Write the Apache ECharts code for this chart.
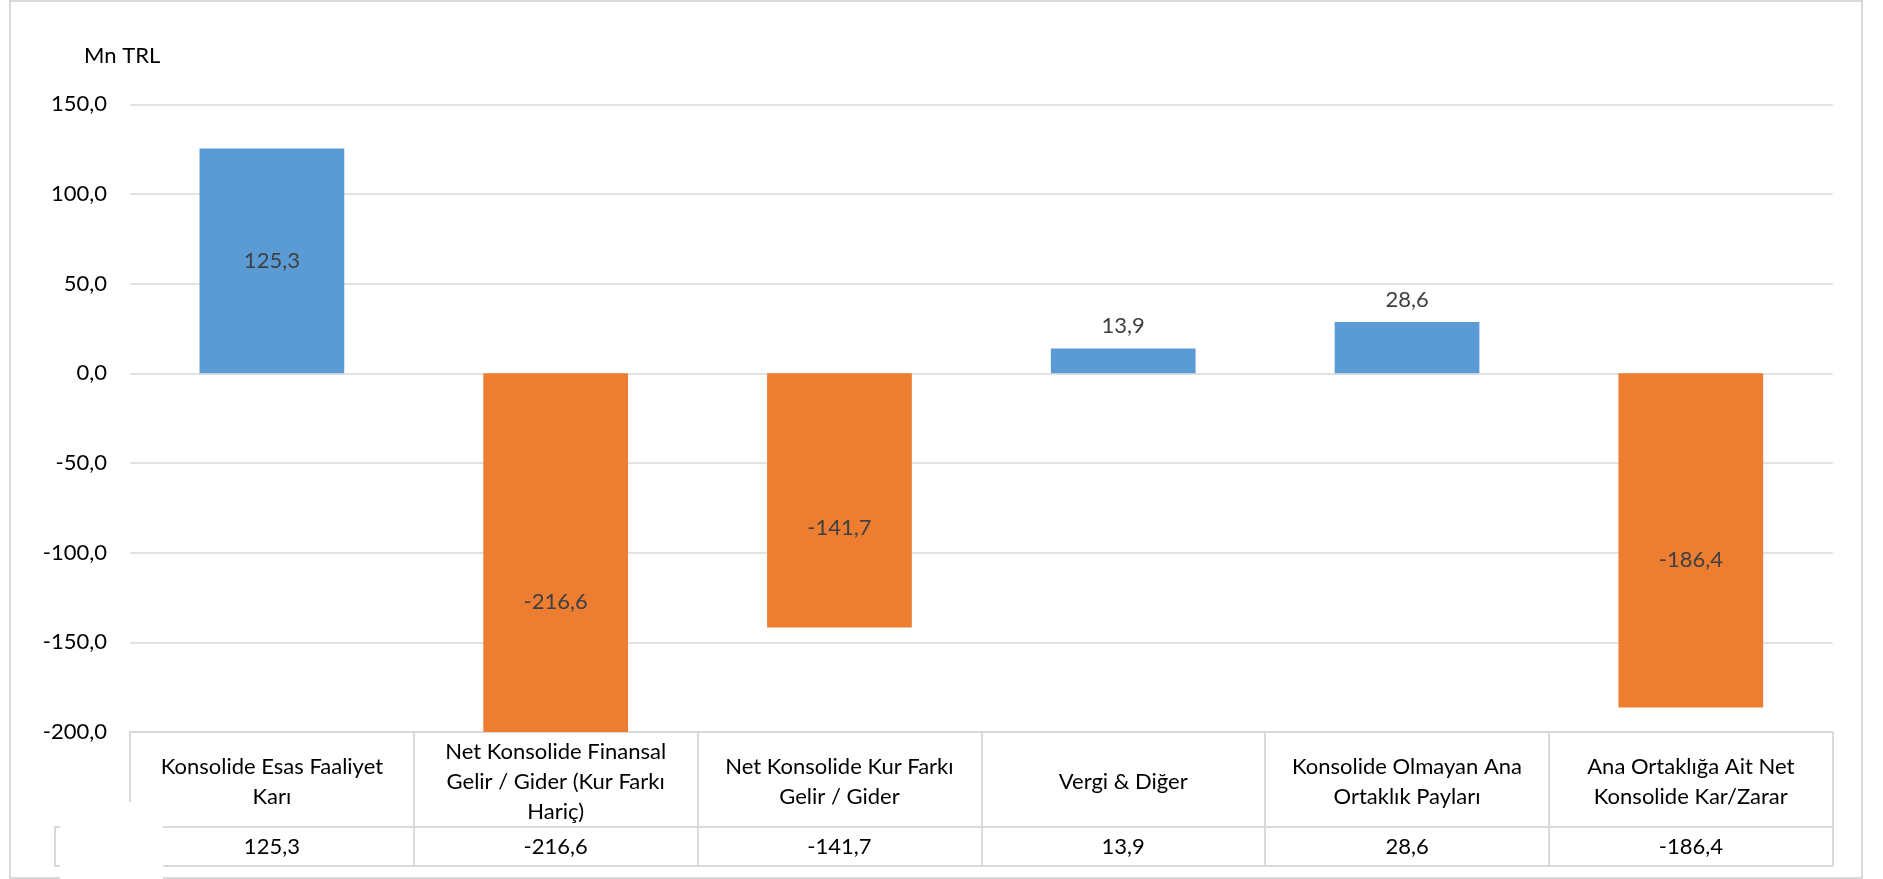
<!DOCTYPE html>
<html>
<head>
<meta charset="utf-8">
<script src="https://cdn.jsdelivr.net/npm/echarts@6/dist/echarts.min.js"></script>
<style>
  html, body { margin: 0; padding: 0; background: #fff; }
  #chart { width: 1883px; height: 879px; }
</style>
</head>
<body>
<div id="chart"></div>
<script>
const categories = [
  "Konsolide Esas Faaliyet\nKarı",
  "Net Konsolide Finansal\nGelir / Gider (Kur Farkı\nHariç)",
  "Net Konsolide Kur Farkı\nGelir / Gider",
  "Vergi & Diğer",
  "Konsolide Olmayan Ana\nOrtaklık Payları",
  "Ana Ortaklığa Ait Net\nKonsolide Kar/Zarar"
];
const values = [125.3, -216.6, -141.7, 13.9, 28.6, -186.4];
const yMin = -200, yMax = 150, yStep = 50;
const unitLabel = "Mn TRL";

// styling only (label placement per bar)
const labelPlacement = [
  { position: 'inside', offset: [0, 0] },
  { position: 'inside', offset: [0, 49] },
  { position: 'inside', offset: [0, 28] },
  { position: 'top', offset: [0, 0] },
  { position: 'top', offset: [0, 0] },
  { position: 'inside', offset: [0, 19.5] }
];

const fmt = v => v.toFixed(1).replace('.', ',');
const FONT = 'Lato';
const FS = 22;
const GRID = '#D9D9D9';

const chart = echarts.init(document.getElementById('chart'));
chart.setOption({
  animation: false,
  backgroundColor: '#fff',
  textStyle: { fontFamily: FONT },
  title: {
    text: unitLabel,
    left: 79, top: 40,
    textStyle: { fontFamily: FONT, fontSize: FS, fontWeight: 'normal', color: '#000' }
  },
  grid: { left: 130, right: 50.3, top: 104.3, bottom: 147, containLabel: false },
  xAxis: [
    {
      type: 'category', data: categories, position: 'bottom',
      axisLine: { onZero: false, lineStyle: { color: GRID, width: 2 } },
      axisTick: { show: true, interval: 0, length: 134, lineStyle: { color: GRID, width: 2 } },
      axisLabel: {
        interval: 0, margin: 50, verticalAlign: 'middle', lineHeight: 30,
        fontFamily: FONT, fontSize: FS, color: '#000', align: 'center'
      },
      splitLine: { show: false }
    },
    {
      type: 'category', data: categories, position: 'bottom', offset: 95,
      axisLine: { show: true, onZero: false, lineStyle: { color: GRID, width: 2 } },
      axisTick: { show: false },
      axisLabel: {
        interval: 0, margin: 19.5, verticalAlign: 'middle',
        fontFamily: FONT, fontSize: FS, color: '#000',
        formatter: (v, i) => fmt(values[i])
      }
    },
    {
      type: 'category', data: categories, position: 'bottom', offset: 134,
      axisLine: { show: true, onZero: false, lineStyle: { color: GRID, width: 2 } },
      axisTick: { show: false },
      axisLabel: { show: false }
    }
  ],
  yAxis: {
    type: 'value', min: yMin, max: yMax, interval: yStep,
    axisLine: { show: false }, axisTick: { show: false },
    axisLabel: { margin: 23, fontFamily: FONT, fontSize: FS, color: '#000', formatter: v => fmt(v) },
    splitLine: { lineStyle: { color: GRID, width: 1.5 } }
  },
  series: [{
    type: 'bar',
    xAxisIndex: 0,
    barWidth: '51%',
    clip: true,
    data: values.map((v, i) => ({
      value: v,
      itemStyle: { color: v >= 0 ? '#5B9BD5' : '#ED7D31' },
      label: {
        show: true,
        position: labelPlacement[i].position,
        offset: labelPlacement[i].offset,
        distance: 11,
        formatter: p => fmt(p.value),
        fontFamily: FONT, fontSize: FS, color: '#404040'
      }
    }))
  }],
  graphic: [
    { type: 'rect', z: 50, shape: { x: 10, y: 1, width: 1852, height: 877 },
      style: { fill: 'none', stroke: GRID, lineWidth: 2 } },
    { type: 'rect', z: 50, shape: { x: 55, y: 827, width: 75, height: 39 },
      style: { fill: 'none', stroke: GRID, lineWidth: 2 } },
    { type: 'rect', z: 100, shape: { x: 60, y: 802, width: 103, height: 77 },
      style: { fill: '#fff', stroke: 'none' } }
  ]
});
</script>
</body>
</html>
